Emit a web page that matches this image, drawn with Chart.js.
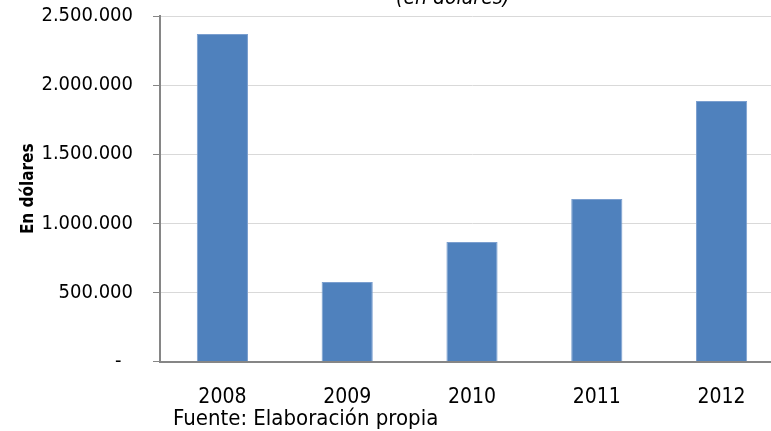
<!DOCTYPE html>
<html lang="es">
<head>
<meta charset="utf-8">
<title>Montos anuales (en dólares)</title>
<script src="https://cdn.jsdelivr.net/npm/chart.js@4.4.1/dist/chart.umd.min.js"></script>
<style>
  html, body { margin: 0; padding: 0; background: #ffffff; overflow: hidden; }
  #wrap { position: relative; width: 784px; height: 431px; }
</style>
</head>
<body>
<div id="wrap"><canvas id="grafico"></canvas></div>
<script>
// Años y montos anuales (dólares)
const anios = ['2008', '2009', '2010', '2011', '2012'];
const montos = [2370000, 575000, 865000, 1176000, 1885000];

// Eje vertical
const ejeMin = 0;
const ejeMax = 2500000;
const ejePaso = 500000;
const tituloEjeY = 'En dólares';
const subtitulo = '(en dólares)';
const fuente = 'Fuente: Elaboración propia';

const FAMILIA = "'DejaVu Sans Condensed', 'Liberation Sans Narrow', sans-serif";

function miles(v) {
  if (v === 0) return '-  ';
  return String(Math.round(v)).replace(/\B(?=(\d{3})+(?!\d))/g, '.');
}

// Textos fuera del área de trazado: subtítulo superior y nota de fuente
const textosExtra = {
  id: 'textosExtra',
  afterDraw(chart) {
    const ctx = chart.ctx;
    ctx.save();
    ctx.fillStyle = '#000000';
    ctx.textBaseline = 'alphabetic';
    ctx.font = 'italic 21px ' + FAMILIA;
    ctx.textAlign = 'center';
    ctx.fillText(subtitulo, 453, 4);
    ctx.font = '22px ' + FAMILIA;
    ctx.textAlign = 'left';
    ctx.fillText(fuente, 173, 425);
    ctx.restore();
  }
};

new Chart(document.getElementById('grafico'), {
  type: 'bar',
  data: {
    labels: anios,
    datasets: [{
      data: montos,
      backgroundColor: '#4f81bd',
      borderColor: '#7b9fcf',
      borderWidth: 1,
      borderSkipped: 'bottom',
      barPercentage: 1,
      categoryPercentage: 0.41
    }]
  },
  options: {
    responsive: true,
    maintainAspectRatio: false,
    animation: false,
    layout: { padding: { top: 16, right: 0, bottom: 0, left: 0 } },
    plugins: {
      legend: { display: false },
      tooltip: { enabled: false }
    },
    scales: {
      x: {
        offset: true,
        grid: { display: false, drawTicks: false },
        border: { display: true, color: '#868686', width: 2 },
        ticks: {
          color: '#000000',
          padding: 23,
          font: { family: FAMILIA, size: 21 }
        },
        afterFit(scale) {
          scale.height = 69.5;
          scale.paddingLeft = 0;
          scale.paddingRight = 0;
        }
      },
      y: {
        min: ejeMin,
        max: ejeMax,
        grid: {
          color: '#d9d9d9',
          lineWidth: 1,
          drawTicks: true,
          tickLength: 7,
          tickColor: '#868686'
        },
        border: { display: true, color: '#868686', width: 2 },
        ticks: {
          stepSize: ejePaso,
          color: '#000000',
          padding: 20,
          font: { family: FAMILIA, size: 20 },
          callback: (v) => miles(v)
        },
        title: {
          display: true,
          text: tituloEjeY,
          color: '#000000',
          font: { family: FAMILIA, size: 17, weight: 'bold' },
          padding: { top: 18, bottom: 0 }
        },
        afterFit(scale) {
          scale.width = 160;
          scale.paddingTop = 0;
          scale.paddingBottom = 0;
        }
      }
    }
  },
  plugins: [textosExtra]
});
</script>
</body>
</html>
